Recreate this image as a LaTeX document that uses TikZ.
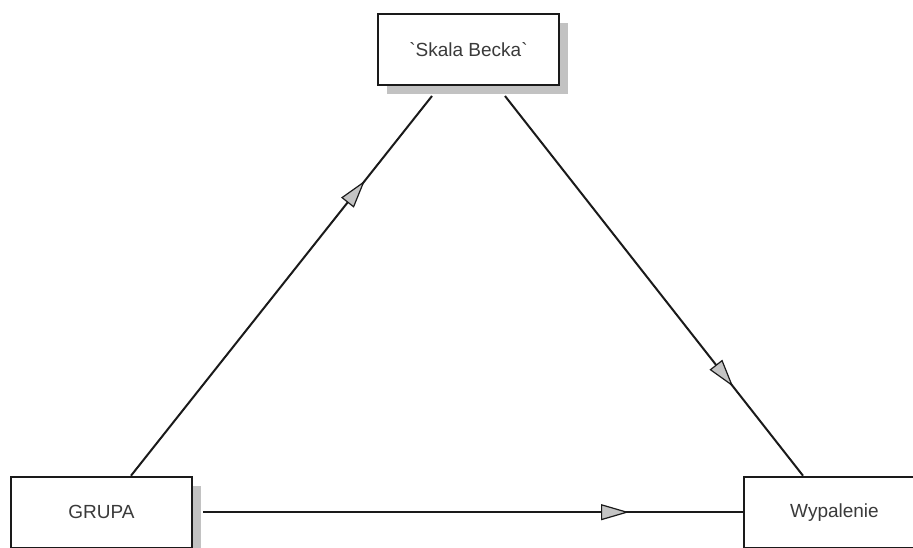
\documentclass[tikz,border=0pt]{standalone}
\usepackage{fontspec}
\setmainfont{Liberation Sans}
\newfontfamily\rawfont{Liberation Sans}[Ligatures=ResetAll]
\usetikzlibrary{shadows,arrows.meta,decorations.markings,backgrounds}
\definecolor{linec}{HTML}{1A1A1A}
\definecolor{shadowc}{HTML}{C2C2C2}
\definecolor{tipc}{HTML}{C4C4C4}
\definecolor{textc}{HTML}{3A3A3A}
\tikzset{
  box/.style={draw=linec, line width=2pt, fill=white, minimum width=181pt, minimum height=71pt,
    inner sep=0pt, text=textc, font=\rawfont\fontsize{19}{21}\selectfont,
    drop shadow={shadow xshift=9pt, shadow yshift=-9pt, fill=shadowc, opacity=1}},
  conn/.style={draw=linec, line width=2pt,
    postaction={decorate, decoration={markings,
      mark=at position #1 with {\arrow{Triangle[length=28pt,width=16pt,fill=tipc,line width=1.2pt]}}}}}
}
\begin{document}
\begin{tikzpicture}[x=1pt,y=-1pt]
\useasboundingbox (0,0) rectangle (913,548);
\node[box] (skala) at (468.5,49.5) {`Skala Becka`};
\node[box] (grupa) at (101.5,512.2) {GRUPA};
\node[box] (wypal) at (834.5,512.2) {Wypalenie};
\begin{scope}[on background layer]
\draw[conn=-108pt] ([xshift=29.5pt]grupa.north) -- ([xshift=-36.5pt,yshift=-10pt]skala.south);
\draw[conn=-113pt] ([xshift=36.5pt,yshift=-10pt]skala.south) -- ([xshift=-31.5pt]wypal.north);
\draw[conn=-114pt] ([xshift=10pt]grupa.east) -- (wypal.west);
\end{scope}
\end{tikzpicture}
\end{document}
